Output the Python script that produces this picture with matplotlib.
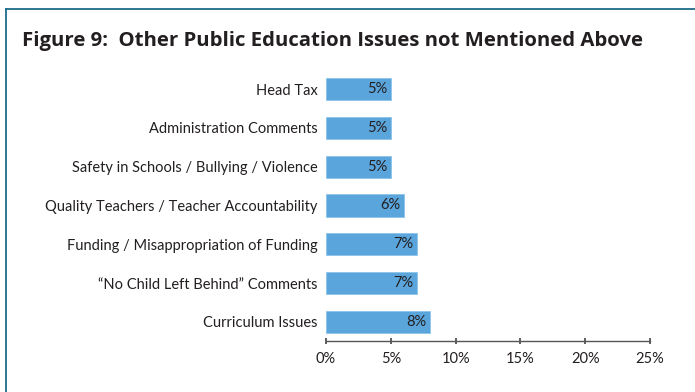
import matplotlib
matplotlib.use("Agg")
import matplotlib.pyplot as plt
from matplotlib.lines import Line2D
from matplotlib.ticker import FuncFormatter

categories = [
    "Curriculum Issues",
    "\u201cNo Child Left Behind\u201d Comments",
    "Funding / Misappropriation of Funding",
    "Quality Teachers / Teacher Accountability",
    "Safety in Schools / Bullying / Violence",
    "Administration Comments",
    "Head Tax",
]
values = [8, 7, 7, 6, 5, 5, 5]
x_ticks = [0, 5, 10, 15, 20, 25]
title = "Figure 9:  Other Public Education Issues not Mentioned Above"

plt.rcParams["font.family"] = ["Lato", "DejaVu Sans"]
text_color = "#231f20"
bar_color = "#5aa5dc"
frame_color = "#1d6b8a"

W, H = 695, 392
fig = plt.figure(figsize=(W / 100, H / 100), dpi=100)

# Frame lines along the top and left edges
fig.add_artist(Line2D([6 / W, 1.0], [1 - 9 / H, 1 - 9 / H], color=frame_color, lw=1.3,
                      transform=fig.transFigure))
fig.add_artist(Line2D([6 / W, 6 / W], [0, 1 - 9 / H], color=frame_color, lw=1.3,
                      transform=fig.transFigure))

ttl = fig.text(22 / W, 1 - 41 / H, title, fontsize=14.2, fontweight="bold", color=text_color,
               ha="left", va="center", family=["Open Sans", "DejaVu Sans"])

left, right = 326 / W, 650 / W
bottom, top = 1 - 341 / H, 1 - 69.6 / H
ax = fig.add_axes([left, bottom, right - left, top - bottom])

y = list(range(len(categories)))
bars = ax.barh(y, values, height=0.57, color=bar_color, edgecolor="#8cc3ea", linewidth=0.6)
for yi, v in zip(y, values):
    ax.text(v - 0.28, yi, f"{v}%", ha="right", va="center", fontsize=10.5, color=text_color)

ax.set_xlim(0, 25)
ax.set_ylim(-0.49, 6.5)
ax.set_yticks(y)
ax.set_yticklabels(categories, fontsize=10.5, color=text_color)
ax.set_xticks(x_ticks)
ax.xaxis.set_major_formatter(FuncFormatter(lambda v, p: f"{int(v)}%"))
ax.tick_params(axis="y", length=0, pad=6)
ax.tick_params(axis="x", direction="inout", length=4, width=1.2, color="#444444",
               labelsize=10.5, labelcolor=text_color, pad=6)
for s in ["top", "right", "left"]:
    ax.spines[s].set_visible(False)
ax.spines["bottom"].set_color("#555555")
ax.spines["bottom"].set_linewidth(1)

# Fit the title to span the same width as the plotted block
fig.canvas.draw()
bb = ttl.get_window_extent()
target = 645 - 22
ttl.set_fontsize(14.2 * target / bb.width)

fig.savefig("out.png", dpi=100, facecolor="white")
